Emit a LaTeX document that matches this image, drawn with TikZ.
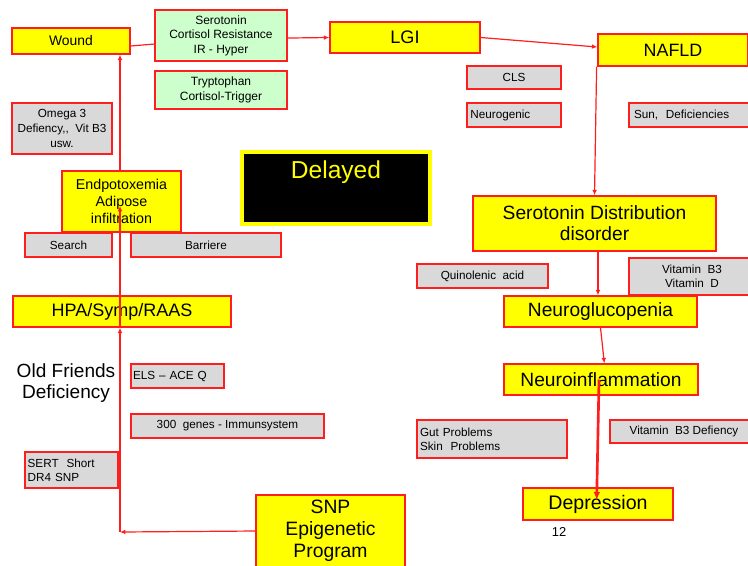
\documentclass[tikz,border=0pt]{standalone}
\usepackage{fontspec}
\setmainfont{Liberation Sans}[Ligatures=NoCommon]
\usetikzlibrary{arrows.meta,calc}
\definecolor{boxred}{RGB}{255,30,30}
\definecolor{ylw}{RGB}{255,255,0}
\definecolor{gry}{RGB}{217,217,217}
\definecolor{grn}{RGB}{204,255,204}
\tikzset{
 base/.style={draw=boxred, line width=1.1pt, inner sep=0pt, align=center},
 ybox/.style={base, fill=ylw},
 gbox/.style={base, fill=gry, font=\fontsize{8.8}{10.5}\selectfont},
 grbox/.style={base, fill=grn, font=\fontsize{9}{10.9}\selectfont},
 conn/.style={draw=boxred, line width=0.9pt, -{Latex[length=4pt,width=3.5pt]}},
 plainline/.style={draw=boxred, line width=0.9pt},
}
\begin{document}
\begin{tikzpicture}[x=0.75pt,y=-0.75pt]
\useasboundingbox (0,0) rectangle (748,565);
\clip (0,0) rectangle (748,565);
\fill[white] (0,0) rectangle (748,565);
% left / top
\node[ybox, minimum width=88.5pt, minimum height=19.5pt, font=\fontsize{10.4}{12}\selectfont] (wound) at (71,41) {Wound};
\node[grbox, minimum width=99pt, minimum height=38.25pt] (sero) at (221,35.5) {Serotonin\\Cortisol Resistance\\IR - Hyper};
\node[grbox, minimum width=99pt, minimum height=28.5pt] (tryp) at (221,90) {Tryptophan\\Cortisol-Trigger};
\node[ybox, minimum width=112.5pt, minimum height=23.25pt, font=\fontsize{13.6}{15}\selectfont] (lgi) at (405,37.5) {LGI};
\node[ybox, minimum width=112.5pt, minimum height=24pt, font=\fontsize{13.4}{15}\selectfont] (nafld) at (673,50) {NAFLD};
\node[gbox, minimum width=70.5pt, minimum height=17.25pt] (cls) at (514,77.5) {CLS};
\node[gbox, minimum width=70.5pt, minimum height=18pt, text width=65.5pt, align=left] (neurog) at (514,115) {Neurogenic};
\node[gbox, minimum width=98.25pt, minimum height=18pt, text width=90.75pt, align=left] (sun) at (694.5,115) {Sun,\ \ Deficiencies};
\node[gbox, minimum width=75pt, minimum height=38.25pt, font=\fontsize{8.8}{11}\selectfont] (omega) at (62,128.5) {Omega 3\\Defiency,{},\ \ Vit B3\\usw.};
\node[base, draw=ylw, line width=2.4pt, fill=black, minimum width=141pt, minimum height=54pt] (delayed) at (336,188) {};
\node[text=ylw, font=\fontsize{18.4}{20}\selectfont, inner sep=0pt] (delayedtxt) at (336,172) {Delayed};
\node[ybox, minimum width=89.25pt, minimum height=45.75pt, font=\fontsize{10.7}{12.75}\selectfont] (endp) at (121.5,201.5) {Endpotoxemia\\Adipose\\infiltration};
\node[gbox, minimum width=65.25pt, minimum height=18pt] (search) at (68.5,245) {Search};
\node[gbox, minimum width=112.5pt, minimum height=18pt] (barriere) at (206,245) {Barriere};
\node[ybox, minimum width=163.5pt, minimum height=23.25pt, font=\fontsize{13.5}{15}\selectfont] (hpa) at (122,311.5) {HPA/Symp/RAAS};
\node[font=\fontsize{14.3}{15.75}\selectfont, align=center, inner sep=0pt] (oldf) at (66,383) {Old Friends\\Deficiency};
\node[gbox, minimum width=69.75pt, minimum height=18pt, text width=66.75pt, align=left] (els) at (177.5,376) {ELS -- ACE Q};
\node[gbox, minimum width=144.75pt, minimum height=18pt] (genes) at (227.5,426) {300\ \ genes - Immunsystem};
\node[gbox, minimum width=69.75pt, minimum height=27pt, text width=65.75pt, align=left] (sert) at (71.5,470) {SERT\ \ Short\\DR4 SNP};
\node[ybox, minimum width=111.75pt, minimum height=54pt, font=\fontsize{14.5}{16.5}\selectfont] (snp) at (330.5,531) {SNP\\Epigenetic\\Program};
% right column
\node[ybox, minimum width=182.25pt, minimum height=41.25pt, font=\fontsize{14.4}{15.75}\selectfont] (sdd) at (594.5,223.5) {Serotonin Distribution\\disorder};
\node[gbox, minimum width=98.25pt, minimum height=18pt] (quin) at (482.5,276) {Quinolenic\ \ acid};
\node[gbox, minimum width=94.5pt, minimum height=27.75pt, font=\fontsize{8.8}{10.7}\selectfont] (vitbd) at (692,276.5) {Vitamin\ \ B3\\Vitamin\ \ D};
\node[ybox, minimum width=144.75pt, minimum height=23.25pt, font=\fontsize{14.4}{16}\selectfont] (neurogl) at (600.5,311.5) {Neuroglucopenia};
\node[ybox, minimum width=145.5pt, minimum height=23.25pt, font=\fontsize{14.4}{16}\selectfont] (neuroinfl) at (601,379.5) {Neuroinflammation};
\node[gbox, minimum width=112.5pt, minimum height=28.5pt, text width=108pt, align=left, font=\fontsize{8.8}{10.3}\selectfont] (gut) at (492,439) {Gut Problems\\Skin\ \ Problems};
\node[gbox, minimum width=111pt, minimum height=17.25pt] (vitb3d) at (684,431.5) {Vitamin\ \ B3 Defiency};
\node[ybox, minimum width=112.5pt, minimum height=24pt, font=\fontsize{14.7}{16}\selectfont] (depr) at (598,504) {Depression};
\node[font=\fontsize{9.7}{11}\selectfont, inner sep=0pt] (pagenum) at (559,532) {12};
% connectors
\coordinate (c1) at (120,532);
\draw[plainline] ([yshift=-3.75pt]wound.east) -- ([yshift=-6.4pt]sero.west);
\draw[conn] ([yshift=-1.9pt]sero.east) -- (lgi.west);
\draw[conn] (lgi.east) -- ([yshift=2.25pt]nafld.west);
\draw[conn] ([xshift=-0.5pt]nafld.south west) -- (sdd.north);
\draw[conn] ([xshift=2.6pt]sdd.south) -- ([xshift=2.6pt]sdd.south |- neurogl.north);
\draw[conn] (neurogl.south) -- ([xshift=2.5pt]neuroinfl.north);
\draw[conn, line width=2pt, -{Latex[length=6pt,width=5pt]}] ([xshift=-1.5pt]neuroinfl.center) -- ([xshift=-1pt,yshift=3pt]depr.center);
\draw[conn] (snp.west) -- (c1);
\draw[conn] (c1) -- (c1 |- hpa.south);
\draw[conn] (c1 |- hpa.south) -- ($(c1 |- endp.center)+(0,4.5)$);
\draw[conn] (c1 |- endp.north) -- (c1 |- wound.south);
\end{tikzpicture}
\end{document}
